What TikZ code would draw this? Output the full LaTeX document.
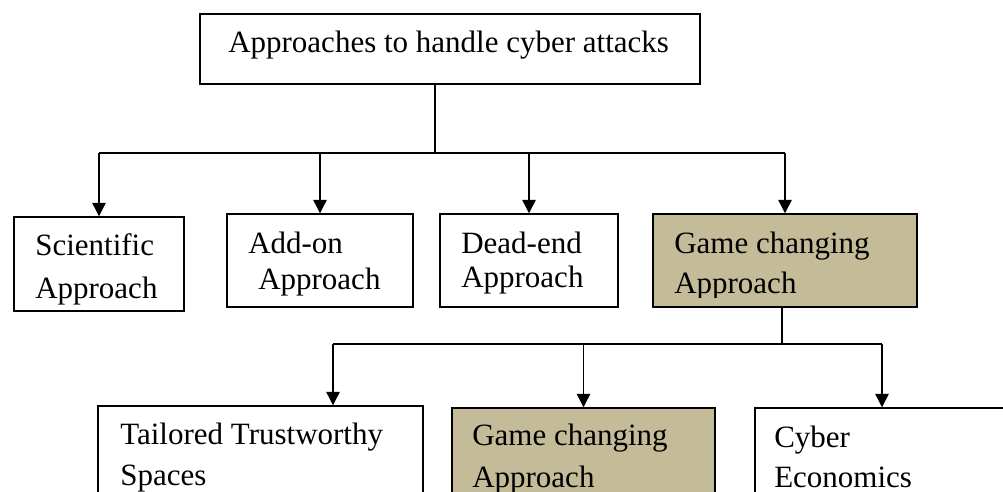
\documentclass[tikz,border=0pt]{standalone}
\usepackage{fontspec}
\setmainfont{Liberation Serif}
\usetikzlibrary{arrows.meta,fit}
\definecolor{tanfill}{RGB}{196,188,152}
\tikzset{
  box/.style={draw=black, line width=1.1pt, inner sep=0pt},
  lbl/.style={anchor=base west, inner sep=0pt, font=\fontsize{23.25}{28}\selectfont},
  conn/.style={line width=1pt},
  arr/.style={conn, -{Triangle[length=10pt,width=10pt]}}
}
\begin{document}
\begin{tikzpicture}[x=0.75pt,y=-0.75pt]
\clip (0,0) rectangle (1003,492);
\fill[white] (0,0) rectangle (1003,492);

% top
\node[box, fit={(200,14)(700,84)}] (top) {};
\node[lbl] (toptext) at (228,53) {Approaches to handle cyber attacks};

% middle row
\node[box, fit={(14,217)(184,311)}] (sci) {};
\node[box, fit={(227,214)(413,307)}] (add) {};
\node[box, fit={(440,214)(618,307)}] (dead) {};
\node[box, fill=tanfill, fit={(653,214)(917,307)}] (gc) {};

\begin{scope}
\clip (14,217) rectangle (184,307);
\node[lbl] (scit1) at (35,255) {Scientific};
\node[lbl] (scit2) at (35,298) {Approach};
\end{scope}
\node[lbl] (addt1) at (248,253) {Add-on};
\node[lbl] (addt2) at (258,289) {Approach};
\node[lbl] (deadt1) at (461,253) {Dead-end};
\node[lbl] (deadt2) at (461,287) {Approach};
\begin{scope}
\clip (653,214) rectangle (917,297);
\node[lbl] (gct1) at (674,253) {Game changing};
\node[lbl] (gct2) at (674,293) {Approach};
\end{scope}

% bottom row
\node[box, fit={(98,406)(423,520)}] (tts) {};
\node[box, fill=tanfill, fit={(452,408)(715,520)}] (gc2) {};
\node[box, fit={(755,408)(1020,520)}] (ce) {};
\node[lbl] (ttst1) at (120,444) {Tailored Trustworthy};
\node[lbl] (ttst2) at (120,485) {Spaces};
\node[lbl] (gc2t1) at (472,445) {Game changing};
\node[lbl] (gc2t2) at (472,487) {Approach};
\node[lbl] (cet1) at (774,447) {Cyber};
\node[lbl] (cet2) at (774,487) {Economics};

% connectors top -> middle
\coordinate (j1) at (435,153);
\draw[conn] (top.south -| j1) -- (j1);
\draw[conn] (sci.north |- j1) -- (gc.north |- j1);
\draw[arr] (sci.north |- j1) -- (sci.north);
\draw[arr] (add.north |- j1) -- (add.north);
\draw[arr] (dead.north |- j1) -- (dead.north);
\draw[arr] (gc.north |- j1) -- (gc.north);

% connectors gc -> bottom
\coordinate (j2) at (782,344);
\coordinate (k1) at (333,344);
\coordinate (k3) at (882,344);
\draw[conn] (gc.south -| j2) -- (j2);
\draw[conn] (k1) -- (k3);
\draw[arr] (k1) -- (k1 |- tts.north);
\draw[arr] (gc2.north |- k1) -- (gc2.north);
\draw[arr] (k3) -- (k3 |- ce.north);
\end{tikzpicture}
\end{document}
